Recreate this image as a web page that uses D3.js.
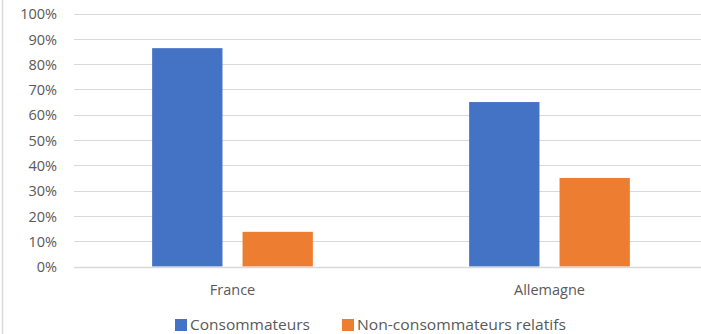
<!DOCTYPE html>
<html>
<head>
<meta charset="utf-8">
<script src="https://cdn.jsdelivr.net/npm/d3@7"></script>
<style>
  html, body { margin: 0; padding: 0; background: #fff; }
  svg { display: block; }
  text { font-family: "Open Sans", "Noto Sans", sans-serif; fill: #595959; }
</style>
</head>
<body>
<svg id="chart" width="701" height="334"></svg>
<script>
// Share of consumers vs relative non-consumers, by country
const categories = ["France", "Allemagne"];
const seriesNames = ["Consommateurs", "Non-consommateurs relatifs"];
const consommateurs = [0.863, 0.65];
const nonConsommateurs = [0.137, 0.35];
const yTicks = [0, 0.1, 0.2, 0.3, 0.4, 0.5, 0.6, 0.7, 0.8, 0.9, 1.0];
const colors = ["#4472C4", "#ED7D31"];

const seriesValues = [consommateurs, nonConsommateurs];
const rows = categories.map((c, i) => ({
  category: c,
  values: seriesNames.map((s, j) => ({ series: s, value: seriesValues[j][i] }))
}));

const svg = d3.select("#chart");
const W = 701, H = 334;
const plotLeft = 74, plotTop = 13.5, plotBottom = 266.5;

// chart frame (left edge)
svg.append("line")
  .attr("x1", 2.5).attr("x2", 2.5).attr("y1", 0).attr("y2", H)
  .attr("stroke", "#d9d9d9").attr("stroke-width", 1.5);

const y = d3.scaleLinear().domain([0, 1]).range([plotBottom, plotTop]);
const x0 = d3.scaleBand().domain(categories).range([plotLeft, 708]).padding(0);
const groupW = x0.bandwidth() * 0.507;
const x1 = d3.scaleBand().domain(seriesNames)
  .range([x0.bandwidth() / 2 - groupW / 2, x0.bandwidth() / 2 + groupW / 2])
  .paddingInner(0.222).paddingOuter(0);

// gridlines
svg.append("g")
  .selectAll("line")
  .data(yTicks)
  .join("line")
  .attr("x1", plotLeft).attr("x2", W)
  .attr("y1", d => Math.round(y(d)) + 0.5).attr("y2", d => Math.round(y(d)) + 0.5)
  .attr("stroke", "#d9d9d9").attr("stroke-width", 1.2);

// y axis labels
const yAxis = d3.axisLeft(y).tickValues(yTicks).tickFormat(d3.format(".0%")).tickSize(0).tickPadding(0);
const gy = svg.append("g").attr("transform", `translate(57,0)`).call(yAxis);
gy.select(".domain").remove();
gy.selectAll("text")
  .attr("font-size", 14.5)
  .attr("font-family", "'Open Sans', sans-serif")
  .attr("fill", "#595959")
  .attr("dy", "0.36em");

// bars
const groups = svg.append("g")
  .selectAll("g")
  .data(rows)
  .join("g")
  .attr("transform", d => `translate(${x0(d.category)},0)`);

groups.selectAll("rect")
  .data(d => d.values)
  .join("rect")
  .attr("x", d => x1(d.series))
  .attr("width", x1.bandwidth())
  .attr("y", d => y(d.value))
  .attr("height", d => y(0) - y(d.value))
  .attr("fill", (d, i) => colors[i]);

// baseline
svg.append("line")
  .attr("x1", plotLeft).attr("x2", W)
  .attr("y1", Math.round(y(0)) + 0.5).attr("y2", Math.round(y(0)) + 0.5)
  .attr("stroke", "#d9d9d9").attr("stroke-width", 1.5);

// category labels
const xAxis = d3.axisBottom(x0).tickSize(0).tickPadding(0);
const gx = svg.append("g").attr("transform", `translate(0,${plotBottom})`).call(xAxis);
gx.select(".domain").remove();
gx.selectAll("text")
  .attr("font-size", 14.5)
  .attr("font-family", "'Open Sans', sans-serif")
  .attr("fill", "#595959")
  .attr("dy", 0)
  .attr("y", 28.5);

// legend
const legendItems = [
  { name: seriesNames[0], color: colors[0], x: 175, tx: 190, tw: 120 },
  { name: seriesNames[1], color: colors[1], x: 342, tx: 357, tw: 209 }
];
const lg = svg.append("g");
lg.selectAll("rect")
  .data(legendItems)
  .join("rect")
  .attr("x", d => d.x).attr("y", 319)
  .attr("width", 12).attr("height", 12)
  .attr("fill", d => d.color);
lg.selectAll("text")
  .data(legendItems)
  .join("text")
  .attr("x", d => d.tx).attr("y", 330)
  .attr("font-size", 14.5)
  .attr("textLength", d => d.tw)
  .attr("lengthAdjust", "spacingAndGlyphs")
  .text(d => d.name);
</script>
</body>
</html>
